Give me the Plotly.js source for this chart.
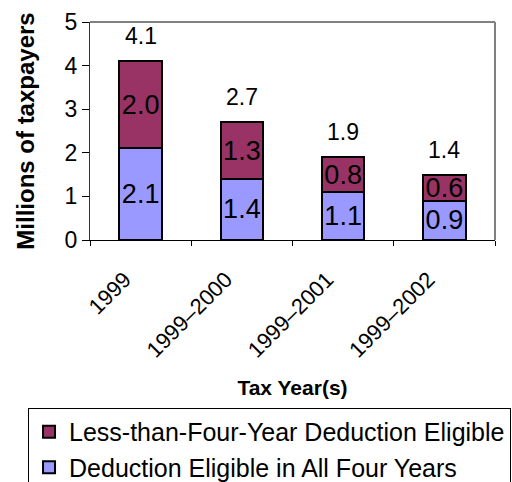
<!DOCTYPE html>
<html>
<head>
<meta charset="utf-8">
<script src="https://cdn.plot.ly/plotly-3.0.1.min.js"></script>
<style>
html,body{margin:0;padding:0;background:#fff;}
#chart{width:512px;height:482px;}
</style>
</head>
<body>
<div id="chart"></div>
<script>
const categories = ["1999", "1999\u20132000", "1999\u20132001", "1999\u20132002"];
const allFourYears = [2.1, 1.4, 1.1, 0.9];
const lessThanFour = [2.0, 1.3, 0.8, 0.6];
const totalLabels = ["4.1", "2.7", "1.9", "1.4"];
const allFourText = ["2.1", "1.4", "1.1", "0.9"];
const lessThanFourText = ["2.0", "1.3", "0.8", "0.6"];
const yTicks = [0, 1, 2, 3, 4, 5];

const FONT = "Liberation Sans, Arial, sans-serif";
const xPos = categories.map((c, i) => i);
const boundaries = categories.map((c, i) => i - 0.5).concat([categories.length - 0.5]);
const PAD = "\u00a0\u00a0\u00a0";

const traces = [
  {
    type: "bar",
    name: "Deduction Eligible in All Four Years",
    x: xPos,
    y: allFourYears,
    text: allFourText,
    textposition: "inside",
    textangle: 0,
    insidetextanchor: "middle",
    constraintext: "none",
    insidetextfont: {family: FONT, size: 27, color: "#000"},
    marker: {color: "#9999FF", line: {color: "#000", width: 2}},
    hoverinfo: "none"
  },
  {
    type: "bar",
    name: "Less-than-Four-Year Deduction Eligible",
    x: xPos,
    y: lessThanFour,
    text: lessThanFourText,
    textposition: "inside",
    textangle: 0,
    insidetextanchor: "middle",
    constraintext: "none",
    insidetextfont: {family: FONT, size: 27, color: "#000"},
    marker: {color: "#993366", line: {color: "#000", width: 2}},
    hoverinfo: "none"
  }
];

const annotations = categories.map((c, i) => ({
  x: xPos[i],
  y: allFourYears[i] + lessThanFour[i],
  xref: "x",
  yref: "y",
  text: totalLabels[i],
  showarrow: false,
  yanchor: "bottom",
  yshift: 10,
  font: {family: FONT, size: 23, color: "#000"}
}));

const layout = {
  width: 512,
  height: 482,
  margin: {l: 90, r: 17, t: 22, b: 242, autoexpand: false},
  paper_bgcolor: "#fff",
  plot_bgcolor: "#fff",
  barmode: "stack",
  bargap: 0.58,
  showlegend: true,
  font: {family: FONT, color: "#000"},
  xaxis: {
    type: "linear",
    range: [-0.5, categories.length - 0.5],
    tickmode: "array",
    tickvals: xPos,
    ticktext: categories.map(c => c + PAD),
    tickangle: -45,
    tickfont: {family: FONT, size: 22, color: "#000"},
    ticks: "outside",
    ticklen: 16,
    tickcolor: "rgba(0,0,0,0)",
    ticklabelshift: -3,
    ticklabelstandoff: -12,
    minor: {tickmode: "array", tickvals: boundaries, ticks: "outside", ticklen: 5, tickcolor: "#000", showgrid: false},
    showline: true,
    linecolor: "#000",
    linewidth: 1,
    showgrid: false,
    zeroline: false,
    title: {text: "<b>Tax Year(s)</b>", font: {family: FONT, size: 21, color: "#000"}, standoff: 18},
    automargin: false
  },
  yaxis: {
    range: [0, 5],
    tickvals: yTicks,
    ticktext: yTicks.map(String),
    tickfont: {family: FONT, size: 23, color: "#000"},
    ticks: "outside",
    ticklen: 7,
    tickcolor: "#000",
    showline: true,
    linecolor: "#333",
    linewidth: 1,
    showgrid: false,
    zeroline: false,
    title: {text: "<b>Millions of taxpayers</b>", font: {family: FONT, size: 24, color: "#000"}, standoff: 23},
    automargin: false
  },
  shapes: [
    {type: "line", xref: "paper", yref: "paper", x0: 0, x1: 1, y0: 1, y1: 1, line: {color: "#808080", width: 2}},
    {type: "line", xref: "paper", yref: "paper", x0: 1, x1: 1, y0: 0, y1: 1, line: {color: "#808080", width: 2}}
  ],
  annotations: annotations,
  legend: {
    x: -0.153,
    y: -0.7706,
    xanchor: "left",
    yanchor: "top",
    traceorder: "reversed",
    bordercolor: "#000",
    borderwidth: 1,
    bgcolor: "#fff",
    font: {family: FONT, size: 25, color: "#000"},
    itemwidth: 30
  }
};

Plotly.newPlot("chart", traces, layout, {displayModeBar: false, staticPlot: true});
</script>
</body>
</html>
